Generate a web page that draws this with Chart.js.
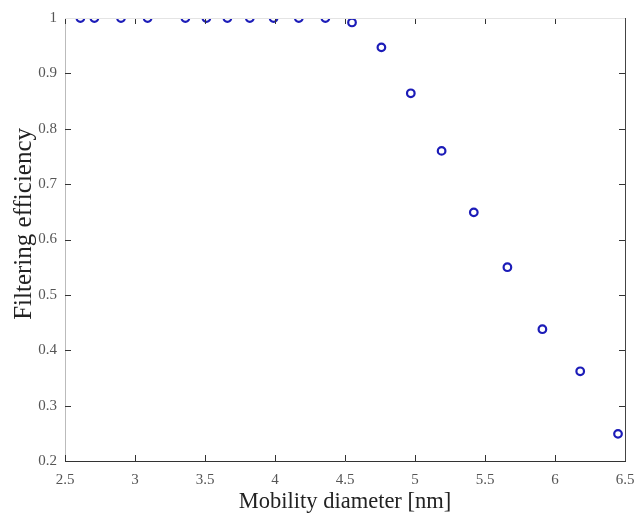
<!DOCTYPE html>
<html>
<head>
<meta charset="utf-8">
<script src="https://cdn.jsdelivr.net/npm/chart.js@4/dist/chart.umd.min.js"></script>
<style>
    html, body { margin: 0; padding: 0; background: #ffffff; }
    #wrap { width: 636px; height: 513px; }
</style>
</head>
<body>
<div id="wrap"><canvas id="chart" width="636" height="513"></canvas></div>
<script>
const diameters = [2.61, 2.71, 2.9, 3.09, 3.36, 3.51, 3.66, 3.82, 3.99, 4.17,
    4.36, 4.55, 4.76, 4.97, 5.19, 5.42, 5.66, 5.91, 6.18, 6.45];
const efficiency = [1.0, 1.0, 1.0, 1.0, 1.0, 1.0, 1.0, 1.0, 1.0, 1.0,
    1.0, 0.992, 0.947, 0.864, 0.760, 0.649, 0.550, 0.438, 0.362, 0.249];
const xTicks = [2.5, 3, 3.5, 4, 4.5, 5, 5.5, 6, 6.5];
const yTicks = [0.2, 0.3, 0.4, 0.5, 0.6, 0.7, 0.8, 0.9, 1];

const font = "'Liberation Serif', 'Times New Roman', serif";

// MATLAB-like inward ticks on all four sides
const innerTicks = {
    id: "innerTicks",
    afterDraw(chart) {
        const { ctx, chartArea: a, scales: { x, y } } = chart;
        ctx.save();
        ctx.strokeStyle = "#333";
        ctx.lineWidth = 1;
        ctx.beginPath();
        xTicks.forEach((v) => {
            const px = Math.round(x.getPixelForValue(v)) + 0.5;
            ctx.moveTo(px, a.bottom); ctx.lineTo(px, a.bottom - 6);
            ctx.moveTo(px, a.top); ctx.lineTo(px, a.top + 6);
        });
        yTicks.forEach((v) => {
            const py = Math.round(y.getPixelForValue(v)) + 0.5;
            ctx.moveTo(a.left, py); ctx.lineTo(a.left + 6, py);
            ctx.moveTo(a.right, py); ctx.lineTo(a.right - 6, py);
        });
        ctx.stroke();
        // right and top edges
        ctx.beginPath();
        ctx.strokeStyle = "#444";
        ctx.moveTo(a.right + 0.5, a.top); ctx.lineTo(a.right + 0.5, a.bottom);
        ctx.stroke();
        ctx.beginPath();
        ctx.strokeStyle = "#e4e4e4";
        ctx.moveTo(a.left, a.top + 0.5); ctx.lineTo(a.right, a.top + 0.5);
        ctx.stroke();
        ctx.restore();
    },
};

new Chart(document.getElementById("chart"), {
    type: "scatter",
    data: {
        datasets: [
            {
                data: diameters.map((d, i) => ({ x: d, y: efficiency[i] })),
                pointStyle: "circle",
                pointRadius: 3.8,
                pointBorderWidth: 2.2,
                pointBorderColor: "#1c1cb8",
                pointBackgroundColor: "rgba(0,0,0,0)",
                showLine: false,
            },
        ],
    },
    options: {
        responsive: false,
        animation: false,
        layout: { padding: { top: 18, right: 11, left: 0, bottom: 0 } },
        plugins: {
            legend: { display: false },
            tooltip: { enabled: false },
        },
        scales: {
            x: {
                type: "linear",
                min: 2.5,
                max: 6.5,
                afterBuildTicks: (scale) => {
                    scale.ticks = xTicks.map((v) => ({ value: v }));
                },
                afterFit: (scale) => {
                    scale.height = 52;
                    scale.paddingLeft = 0;
                    scale.paddingRight = 0;
                },
                border: { color: "#333", width: 1 },
                grid: { drawOnChartArea: false, drawTicks: false },
                ticks: {
                    color: "#555",
                    padding: 10,
                    maxRotation: 0,
                    font: { family: font, size: 15 },
                    callback: (v) => String(Number(v.toFixed(1))),
                },
                title: {
                    display: true,
                    text: "Mobility diameter [nm]",
                    color: "#222",
                    padding: { top: 0, bottom: -3 },
                    font: { family: font, size: 22.5 },
                },
            },
            y: {
                type: "linear",
                min: 0.2,
                max: 1,
                afterBuildTicks: (scale) => {
                    scale.ticks = yTicks.map((v) => ({ value: v }));
                },
                afterFit: (scale) => { scale.width = 65; },
                border: { color: "#bbb", width: 1 },
                grid: { drawOnChartArea: false, drawTicks: false },
                ticks: {
                    color: "#555",
                    padding: 8,
                    font: { family: font, size: 15 },
                    callback: (v) => String(Number(v.toFixed(1))),
                },
                title: {
                    display: true,
                    text: "     Filtering efficiency",
                    color: "#222",
                    padding: { top: 9, bottom: 0 },
                    font: { family: font, size: 25 },
                },
            },
        },
    },
    plugins: [innerTicks],
});
</script>
</body>
</html>
